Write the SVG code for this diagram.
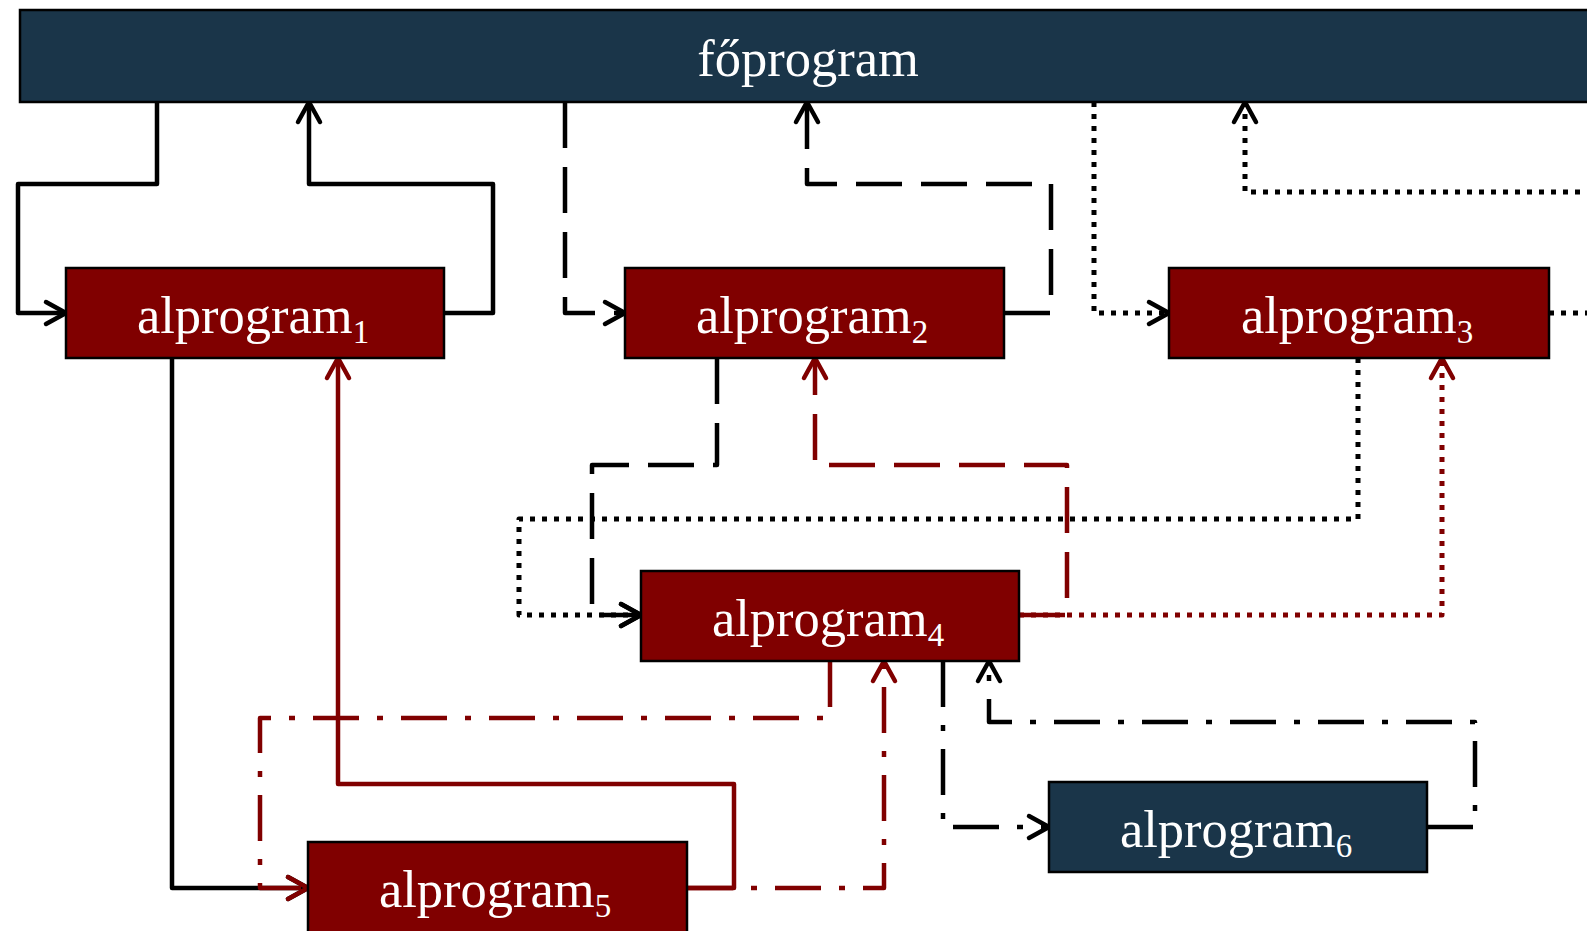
<svg xmlns="http://www.w3.org/2000/svg" width="1587" height="931" viewBox="0 0 1587 931">
<style>
.blue{fill:#1a3549;stroke:#000;stroke-width:2.5}
.red{fill:#800000;stroke:#000;stroke-width:2.5}
.lbl{font-family:"Liberation Serif","Times New Roman",serif;font-size:52.5px;fill:#fff;text-anchor:middle}
.sub{font-size:33px}
.c{fill:none;stroke-width:4.5;stroke-linejoin:round}
.k{stroke:#000}
.r{stroke:#800000}
.dash{stroke-dasharray:46 19}
.dot{stroke-dasharray:5 7;stroke-width:5}
.dd{stroke-dasharray:46 18 6 18}
.ak{marker-end:url(#ak)}
.ar{marker-end:url(#ar)}
</style>
<defs>
<marker id="ak" markerUnits="userSpaceOnUse" viewBox="-24 -14 28 28" refX="0" refY="0" markerWidth="28" markerHeight="28" orient="auto" overflow="visible">
<path d="M-20,-11 L0,0 L-20,11" fill="none" stroke="#000" stroke-width="4.5" stroke-linecap="round" stroke-linejoin="round"/>
</marker>
<marker id="ar" markerUnits="userSpaceOnUse" viewBox="-24 -14 28 28" refX="0" refY="0" markerWidth="28" markerHeight="28" orient="auto" overflow="visible">
<path d="M-20,-11 L0,0 L-20,11" fill="none" stroke="#800000" stroke-width="4.5" stroke-linecap="round" stroke-linejoin="round"/>
</marker>
</defs>
<rect width="1587" height="931" fill="#fff"/>
<g id="connectors">
<path class="c k ak" d="M157,102 V184 H18 V313 H66"/>
<path class="c k ak" d="M444,313 H493 V184 H309 V102"/>
<path class="c k dash ak" d="M565,102 V313 H625"/>
<path class="c k dash ak" d="M1004,313 H1051 V184 H807 V102"/>
<path class="c k dot ak" d="M1094,102 V313 H1169"/>
<path class="c k dot ak" d="M1549,313 H1600 V192 H1245 V102"/>
<path class="c k dash ak" d="M717,358 V465 H592 V615 H641"/>
<path class="c k dot ak" d="M1358,358 V519 H519 V615 H641"/>
<path class="c r dash ar" d="M1019,615 H1067 V465 H815 V358"/>
<path class="c r dot ar" d="M1019,615 H1442 V358"/>
<path class="c k ak" d="M172,358 V888 H308"/>
<path class="c r dd ar" d="M830,661 V718 H260 V888 H308"/>
<path class="c r ar" d="M687,888 H734 V784 H338 V358"/>
<path class="c r dd ar" d="M687,888 H884 V661"/>
<path class="c k dd ak" d="M943,661 V827 H1049"/>
<path class="c k dd ak" d="M1427,827 H1475 V722 H989 V661"/>
</g>
<g id="foprogram">
<rect class="blue" x="20" y="10" width="1580" height="92"/>
<text class="lbl" x="808" y="76">főprogram</text>
</g>
<g id="alprogram1">
<rect class="red" x="66" y="268" width="378" height="90"/>
<text class="lbl" x="253" y="333">alprogram<tspan class="sub" dy="10">1</tspan></text>
</g>
<g id="alprogram2">
<rect class="red" x="625" y="268" width="379" height="90"/>
<text class="lbl" x="812" y="333">alprogram<tspan class="sub" dy="10">2</tspan></text>
</g>
<g id="alprogram3">
<rect class="red" x="1169" y="268" width="380" height="90"/>
<text class="lbl" x="1357" y="333">alprogram<tspan class="sub" dy="10">3</tspan></text>
</g>
<g id="alprogram4">
<rect class="red" x="641" y="571" width="378" height="90"/>
<text class="lbl" x="828" y="636">alprogram<tspan class="sub" dy="10">4</tspan></text>
</g>
<g id="alprogram5">
<rect class="red" x="308" y="842" width="379" height="100"/>
<text class="lbl" x="495" y="907">alprogram<tspan class="sub" dy="10">5</tspan></text>
</g>
<g id="alprogram6">
<rect class="blue" x="1049" y="782" width="378" height="90"/>
<text class="lbl" x="1236" y="847">alprogram<tspan class="sub" dy="10">6</tspan></text>
</g>
</svg>
